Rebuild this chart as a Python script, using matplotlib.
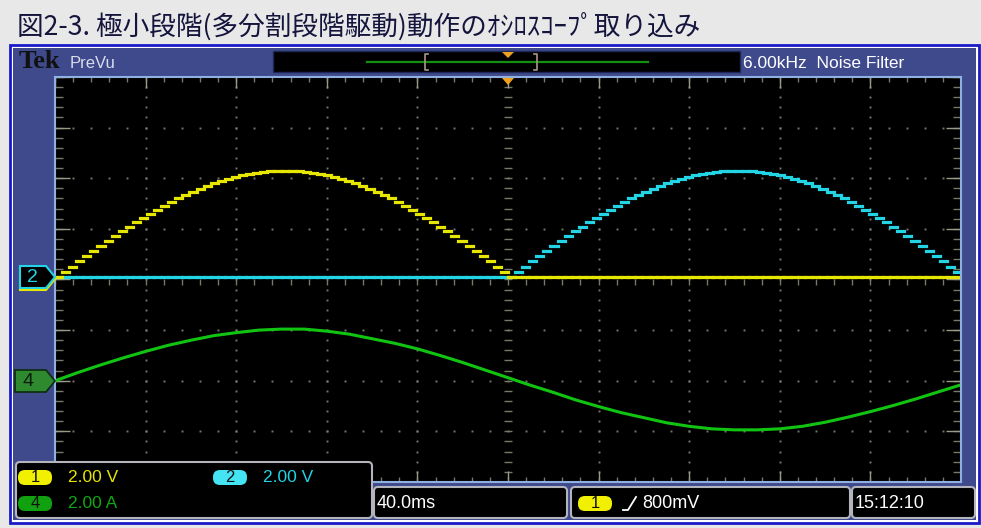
import matplotlib.pyplot as plt
import numpy as np
from matplotlib.patches import Rectangle, Polygon, FancyBboxPatch

# ---- waveform data ----
# microstep levels for a quarter cycle of the drive voltage (V), 32 steps
quarter_levels = [0.00, 0.21, 0.41, 0.62, 0.82, 1.02, 1.22, 1.41, 1.61, 1.80,
                  1.98, 2.16, 2.33, 2.50, 2.66, 2.82, 2.97, 3.11, 3.25, 3.37,
                  3.49, 3.60, 3.70, 3.80, 3.88, 3.95, 4.02, 4.07, 4.12, 4.15,
                  4.18, 4.20, 4.20]
steps_per_cycle = 128
record_ms = 400.0

# motor current sampled every 10 ms (A)
ch4_amps = [0.00, 0.32, 0.62, 0.90, 1.16, 1.40, 1.60, 1.78, 1.90, 2.00,
            2.04, 2.04, 1.96, 1.84, 1.66, 1.48, 1.26, 1.00, 0.72, 0.42,
            0.12, -0.18, -0.46, -0.76, -1.02, -1.26, -1.46, -1.66, -1.80, -1.90,
            -1.94, -1.94, -1.90, -1.80, -1.64, -1.44, -1.22, -0.98, -0.72, -0.44,
            -0.16]
ch4_time_ms = [10.0 * i for i in range(len(ch4_amps))]

volts_per_div = 2.0
amps_per_div = 2.0
ch12_offset = 0.05   # divisions
ch4_offset = -2.0

title = "図2-3. 極小段階(多分割段階駆動)動作のｵｼﾛｽｺｰﾌﾟ取り込み"

YEL = '#e6e600'
CYN = '#22d4e4'
GRN = '#12c412'
PANEL = '#3f4a8c'
GRID = '#77776a'

W, H = 981, 528
fig = plt.figure(figsize=(W / 100, H / 100), dpi=100, facecolor='#e8e8e8')

# background: title and the instrument frame
bg = fig.add_axes([0, 0, 1, 1], zorder=0)
bg.set_xlim(0, W)
bg.set_ylim(H, 0)
bg.axis('off')
bg.text(17, 27, title, fontsize=19.2, color='#14143c', va='center', ha='left',
        family=['Noto Sans CJK JP', 'DejaVu Sans'])
bg.add_patch(Rectangle((10, 44.5), 969, 478, facecolor='white', edgecolor='#1a1ac8', lw=2))
bg.add_patch(Rectangle((13, 47.5), 963, 472, facecolor=PANEL, edgecolor='none'))

# graticule
gx0, gx1, gy0, gy1 = 55, 961, 77, 482
ax = fig.add_axes([gx0 / W, 1 - gy1 / H, (gx1 - gx0) / W, (gy1 - gy0) / H], zorder=1)
ax.set_facecolor('black')
ax.set_xlim(0, record_ms)
ax.set_ylim(-4, 4)
ax.set_xticks([])
ax.set_yticks([])
for s in ax.spines.values():
    s.set_color('#8fb0e0')
    s.set_linewidth(1.5)

xdiv = record_ms / 10
minor_x = np.arange(0, record_ms + 0.1, xdiv / 5)
minor_y = np.arange(-4, 4.01, 0.2)

# dotted division lines
for i in range(1, 10):
    if i == 5:
        continue
    ax.plot(np.full(len(minor_y), i * xdiv), minor_y, ls='none', marker='s',
            ms=1.4, mec='none', mfc=GRID)
for j in range(-3, 4):
    if j == 0:
        continue
    ax.plot(minor_x, np.full(len(minor_x), j), ls='none', marker='s',
            ms=1.4, mec='none', mfc=GRID)

# ticks on the center axes and on the edges
ax.plot(minor_x, np.zeros(len(minor_x)) - 0.04, ls='none', marker='|', ms=4, mew=1, color=GRID)
ax.plot(np.full(len(minor_y), 200.0), minor_y, ls='none', marker='_', ms=6, mew=1, color=GRID)
for yy in (3.97, -3.97):
    ax.plot(minor_x, np.full(len(minor_x), yy), ls='none', marker='|', ms=5, mew=1, color=GRID)
for xx in (1.2, record_ms - 1.2):
    ax.plot(np.full(len(minor_y), xx), minor_y, ls='none', marker='_', ms=7, mew=1, color=GRID)
major_x = np.arange(0, record_ms + 0.1, xdiv)
major_y = np.arange(-4, 4.01, 1.0)
for yy in (3.9, -3.9):
    ax.plot(major_x, np.full(len(major_x), yy), ls='none', marker='|', ms=8, mew=1, color='#9a9a88')
for xx in (3, record_ms - 3):
    ax.plot(np.full(len(major_y), xx), major_y, ls='none', marker='_', ms=12, mew=1, color='#9a9a88')

# channel 1 / 2 microstep staircases
half_wave = quarter_levels + quarter_levels[-2:0:-1]
zeros = [0.0] * len(half_wave)
ch1_volts = np.array(half_wave + zeros)
ch2_volts = np.array(zeros + half_wave)
dt = record_ms / steps_per_cycle
t_start = np.arange(steps_per_cycle) * dt

for volts, col in ((ch2_volts, CYN), (ch1_volts, YEL)):
    lc = ax.hlines(ch12_offset + volts / volts_per_div, t_start, t_start + dt,
                   colors=col, lw=2.3)
    lc.set_capstyle('projecting')

# channel 4 current
ax.plot(ch4_time_ms, ch4_offset + np.array(ch4_amps) / amps_per_div,
        color=GRN, lw=2.2, solid_joinstyle='round')

# foreground: readouts, markers and top bar
fg = fig.add_axes([0, 0, 1, 1], zorder=2)
fg.set_xlim(0, W)
fg.set_ylim(H, 0)
fg.axis('off')
fg.patch.set_alpha(0)

scope_font = ['Liberation Sans', 'DejaVu Sans']

# top bar
fg.text(19, 61, 'Tek', fontsize=19, fontweight='bold', color='#111111',
        family=['Liberation Serif', 'DejaVu Serif'], va='center', ha='left')
fg.text(70, 63, 'PreVu', fontsize=12, color='#d8dcec', family=scope_font,
        va='center', ha='left')
fg.add_patch(Rectangle((273, 51), 467, 21, facecolor='black', edgecolor='#20285a', lw=1))
fg.plot([367, 648], [62, 62], color='#119011', lw=1.6)
fg.plot([428, 425, 425, 428], [54, 54, 70, 70], color='#a8988a', lw=1.2)
fg.plot([534, 537, 537, 534], [54, 54, 70, 70], color='#a8988a', lw=1.2)
fg.add_patch(Polygon([(502, 52), (514, 52), (508, 58)], facecolor='#f0a020', edgecolor='none'))
fg.text(743, 63, '6.00kHz  Noise Filter', fontsize=12.5, color='white',
        family=scope_font, va='center', ha='left')
fg.add_patch(Polygon([(502, 78), (514, 78), (508, 85)], facecolor='#f0a020', edgecolor='none'))

# ground markers on the left edge
fg.add_patch(Polygon([(20, 268), (46, 268), (55, 279), (46, 290), (20, 290)],
                     facecolor='none', edgecolor=YEL, lw=1.5))
fg.add_patch(Polygon([(20, 266), (46, 266), (55, 277), (46, 288), (20, 288)],
                     facecolor='black', edgecolor=CYN, lw=1.5))
fg.text(32, 277.5, '2', fontsize=14, color=CYN, family=scope_font, ha='center', va='center')
fg.add_patch(Polygon([(15, 370), (46, 370), (55, 381), (46, 392), (15, 392)],
                     facecolor='#2f8a2f', edgecolor='#0d2a0d', lw=1.2))
fg.text(28, 381.5, '4', fontsize=14, color='#0c1c0c', family=scope_font, ha='center', va='center')


def box(x, y, w, h):
    fg.add_patch(FancyBboxPatch((x, y), w, h, boxstyle='round,pad=0,rounding_size=4',
                                facecolor='black', edgecolor='#b4b4bc', lw=1.5))


def pill(x, y, label, face):
    fg.add_patch(FancyBboxPatch((x, y), 34, 15, boxstyle='round,pad=0,rounding_size=7',
                                facecolor=face, edgecolor='none'))
    fg.text(x + 17, y + 8, label, fontsize=12, color='#101010', family=scope_font,
            ha='center', va='center')


# channel scale readout
box(16, 462, 356, 56)
pill(18, 470, '1', '#f0f000')
fg.text(68, 477, '2.00 V', fontsize=12.5, color=YEL, family=scope_font, va='center')
pill(213, 470, '2', '#44e4f4')
fg.text(263, 477, '2.00 V', fontsize=12.5, color=CYN, family=scope_font, va='center')
pill(18, 496, '4', '#10a010')
fg.text(68, 503, '2.00 A', fontsize=12.5, color='#10a810', family=scope_font, va='center')

# timebase, trigger and clock
box(374, 487, 193, 31)
fg.text(377, 503, '40.0ms', fontsize=13, color='white', family=scope_font, va='center')
box(571, 487, 279, 31)
pill(578, 496, '1', '#f0f000')
fg.plot([623, 628, 636], [510, 510, 497], color='white', lw=1.3)
fg.text(642, 503, '800mV', fontsize=13, color='white', family=scope_font, va='center')
box(852, 487, 123, 31)
fg.text(855, 503, '15:12:10', fontsize=13, color='white', family=scope_font, va='center')

fig.savefig('out.png', dpi=100, facecolor=fig.get_facecolor())
